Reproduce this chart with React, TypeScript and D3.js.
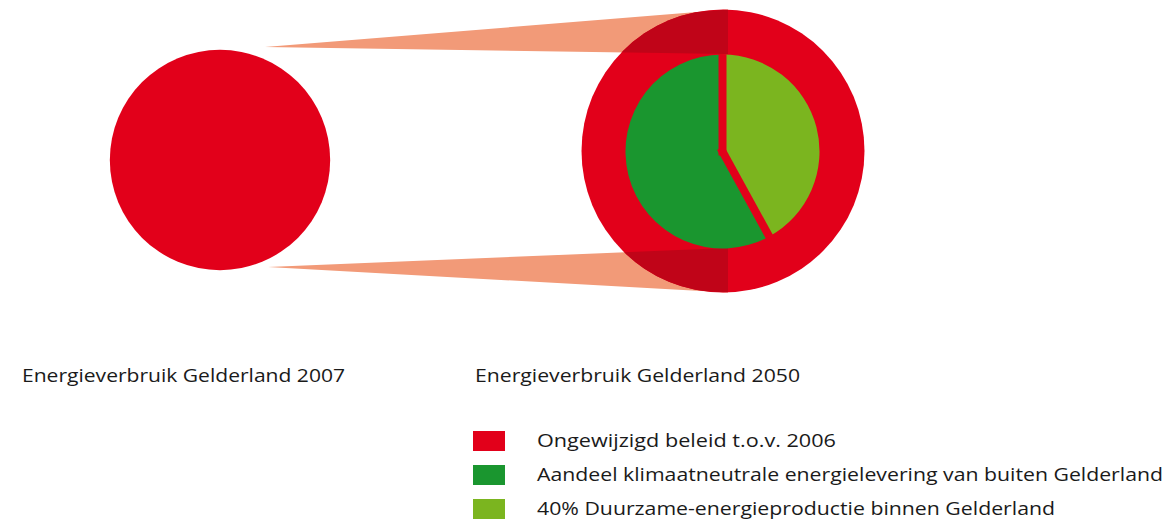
import React from "react";
import * as d3 from "d3";

// ---- data ----
const years = ["2007", "2050"];
const consumption = [100, 165]; // relative energy use (circle area)
const neutralShare2050 = 0.47; // part of 2050 use covered climate-neutrally (inner pie area)
const pieCategories = ["Duurzaam binnen Gelderland", "Klimaatneutraal van buiten"];
const pieValues = [42, 58];
const labels = ["Energieverbruik Gelderland 2007", "Energieverbruik Gelderland 2050"];
const legendLabels = [
  "Ongewijzigd beleid t.o.v. 2006",
  "Aandeel klimaatneutrale energielevering van buiten Gelderland",
  "40% Duurzame-energieproductie binnen Gelderland",
];
const legendWidths = [299, 626, 518];

const RED = "#E2001A";
const DARKRED = "#C00418";
const GREEN = "#1A962F";
const LIGHTGREEN = "#7BB51F";
const SALMON = "#F29A78";
const legendColors = [RED, GREEN, LIGHTGREEN];
const FONT = "'Open Sans', 'DejaVu Sans', sans-serif";

export default function App() {
  const W = 1170, H = 521;
  const r = d3.scaleSqrt().domain([0, 165]).range([0, 141.5]);
  const x = d3.scalePoint<string>().domain(years).range([220, 723]);
  const cy = 151;
  const c1 = { x: x("2007")!, y: 160, r: r(consumption[0]) };
  const c2 = { x: x("2050")!, y: cy, r: r(consumption[1]) };
  const innerR = r(consumption[1] * neutralShare2050);
  const pcx = c2.x - 0.5;

  const beamX = c2.x + 5;
  const topBeam = [
    [c1.x + 45, 47],
    [beamX, c2.y - c2.r],
    [beamX, c2.y - innerR],
  ];
  const botBeam = [
    [c1.x + 48, 267],
    [beamX, c2.y + innerR],
    [beamX, c2.y + c2.r],
  ];
  const line = d3.line();

  const pie = d3.pie<number>().sort(null).value((d) => d);
  const arcs = pie(pieValues);
  const arc = d3.arc<d3.PieArcDatum<number>>().innerRadius(0).outerRadius(innerR);
  const pieColors = [LIGHTGREEN, GREEN];
  const boundaries = arcs.map((a) => a.startAngle);

  return (
    <svg width={W} height={H} style={{ position: "absolute", left: 0, top: 0 }}>
      <defs>
        <clipPath id="c2clip">
          <circle cx={c2.x} cy={c2.y} r={c2.r} />
        </clipPath>
        <clipPath id="pieclip">
          <circle cx={0} cy={0} r={innerR + 0.5} />
        </clipPath>
      </defs>
      <rect width={W} height={H} fill="#fff" />
      <path d={line(topBeam as [number, number][]) + "Z"} fill={SALMON} />
      <path d={line(botBeam as [number, number][]) + "Z"} fill={SALMON} />
      <circle cx={c1.x} cy={c1.y} r={c1.r} fill={RED} />
      <circle cx={c2.x} cy={c2.y} r={c2.r} fill={RED} />
      <g clipPath="url(#c2clip)">
        <path d={line(topBeam as [number, number][]) + "Z"} fill={DARKRED} />
        <path d={line(botBeam as [number, number][]) + "Z"} fill={DARKRED} />
      </g>
      <g transform={`translate(${pcx},${cy + 0.5})`}>
        {arcs.map((a, i) => (
          <path key={pieCategories[i]} d={arc(a)!} fill={pieColors[i]} />
        ))}
        <g clipPath="url(#pieclip)">
          {boundaries.map((ang, i) => (
            <line
              key={i}
              x1={0}
              y1={0}
              x2={Math.sin(ang) * (innerR + 4)}
              y2={-Math.cos(ang) * (innerR + 4)}
              stroke={RED}
              strokeWidth={8}
              strokeLinecap="square"
            />
          ))}
        </g>
      </g>
      <text x={22} y={382} fontFamily={FONT} fontSize={19} fill="#1a1a1a" textLength={323} lengthAdjust="spacingAndGlyphs">
        {labels[0]}
      </text>
      <text x={475} y={382} fontFamily={FONT} fontSize={19} fill="#1a1a1a" textLength={325} lengthAdjust="spacingAndGlyphs">
        {labels[1]}
      </text>
      {legendLabels.map((l, i) => (
        <g key={l} transform={`translate(473,${431 + i * 34})`}>
          <rect width={32} height={20} fill={legendColors[i]} />
          <text x={64} y={16} fontFamily={FONT} fontSize={19} fill="#1a1a1a" textLength={legendWidths[i]} lengthAdjust="spacingAndGlyphs">
            {l}
          </text>
        </g>
      ))}
    </svg>
  );
}
